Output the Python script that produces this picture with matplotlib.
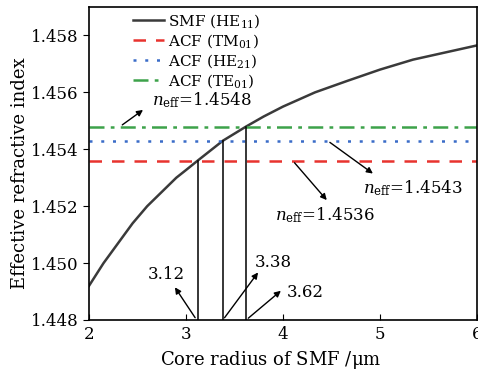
import numpy as np
import matplotlib.pyplot as plt

plt.rcParams['font.family'] = 'DejaVu Serif'
plt.rcParams['mathtext.fontset'] = 'dejavuserif'

# SMF effective index vs core radius
radius = [2.0, 2.15, 2.3, 2.45, 2.6, 2.75, 2.9, 3.0, 3.12, 3.38, 3.62,
          3.8, 4.0, 4.33, 4.66, 5.0, 5.34, 5.67, 6.0]
n_smf = [1.4492, 1.4500, 1.4507, 1.4514, 1.4520, 1.4525, 1.4530, 1.45327,
         1.4536, 1.4543, 1.4548, 1.45515, 1.4555, 1.4560, 1.4564, 1.4568,
         1.45715, 1.4574, 1.45765]

# ACF mode indices
n_tm01 = 1.4536
n_he21 = 1.4543
n_te01 = 1.4548

# matching radii
r_match = [3.12, 3.38, 3.62]
n_match = [n_tm01, n_he21, n_te01]

fig = plt.figure(figsize=(4.78, 3.74), dpi=100)
ax = fig.add_axes([89 / 478, 1 - 320 / 374, 388 / 478, 313 / 374])

ax.plot(radius, n_smf, color='#3a3a3a', lw=1.8, label=r'SMF (HE$_{11}$)')
ax.axhline(n_tm01, color='#e8332e', lw=1.8, ls=(0, (5, 4)), label=r'ACF (TM$_{01}$)')
ax.axhline(n_he21, color='#3a6cc8', lw=1.8, ls=(0, (1.2, 3.5)), label=r'ACF (HE$_{21}$)')
ax.axhline(n_te01, color='#3da24a', lw=1.8, ls=(0, (6, 2.5, 1.5, 2.5)), label=r'ACF (TE$_{01}$)')

for r, n in zip(r_match, n_match):
    ax.plot([r, r], [1.448, n], color='black', lw=1.1)

ax.set_xlim(2, 6)
ax.set_ylim(1.448, 1.459)
ax.set_xticks([2, 3, 4, 5, 6])
ax.set_yticks([1.448, 1.450, 1.452, 1.454, 1.456, 1.458])
ax.set_yticklabels(['1.448', '1.450', '1.452', '1.454', '1.456', '1.458'])
ax.tick_params(axis='x', direction='in', length=4, labelsize=12, pad=4)
ax.tick_params(axis='y', direction='out', length=4, labelsize=12)
for s in ax.spines.values():
    s.set_linewidth(1.2)
ax.set_xlabel(r'Core radius of SMF /$\mathrm{\mu}$m', fontsize=13)
ax.set_ylabel('Effective refractive index', fontsize=13)
ax.xaxis.set_label_coords(0.469, -0.094)
ax.yaxis.set_label_coords(-0.155, 0.47)

ax.legend(loc='upper left', bbox_to_anchor=(44 / 388, 1 - 5 / 313), frameon=False,
          fontsize=11, handlelength=2.0, handletextpad=0.3, labelspacing=0.15,
          borderpad=0, borderaxespad=0)

arrow = dict(arrowstyle='-|>', color='black', lw=1.0, mutation_scale=9)
ax.annotate('', xy=(2.58, 1.45544), xytext=(2.32, n_te01), arrowprops=arrow)
ax.text(2.65, 1.45572, r'$n_{\rm eff}$=1.4548', fontsize=12, va='center', ha='left')
ax.annotate('', xy=(4.95, 1.45309), xytext=(4.46, n_he21), arrowprops=arrow)
ax.text(4.82, 1.45263, r'$n_{\rm eff}$=1.4543', fontsize=12, va='center', ha='left')
ax.annotate('', xy=(4.47, 1.45214), xytext=(4.10, n_tm01), arrowprops=arrow)
ax.text(3.92, 1.45168, r'$n_{\rm eff}$=1.4536', fontsize=12, va='center', ha='left')

ax.annotate('', xy=(2.87, 1.44923), xytext=(3.11, 1.448), arrowprops=arrow)
ax.text(2.80, 1.4496, '3.12', fontsize=12, va='center', ha='center')
ax.annotate('', xy=(3.76, 1.44975), xytext=(3.38, 1.448), arrowprops=arrow)
ax.text(3.71, 1.45003, '3.38', fontsize=12, va='center', ha='left')
ax.annotate('', xy=(4.0, 1.44909), xytext=(3.62, 1.448), arrowprops=arrow)
ax.text(4.04, 1.44898, '3.62', fontsize=12, va='center', ha='left')

fig.savefig('out.png', dpi=100)
